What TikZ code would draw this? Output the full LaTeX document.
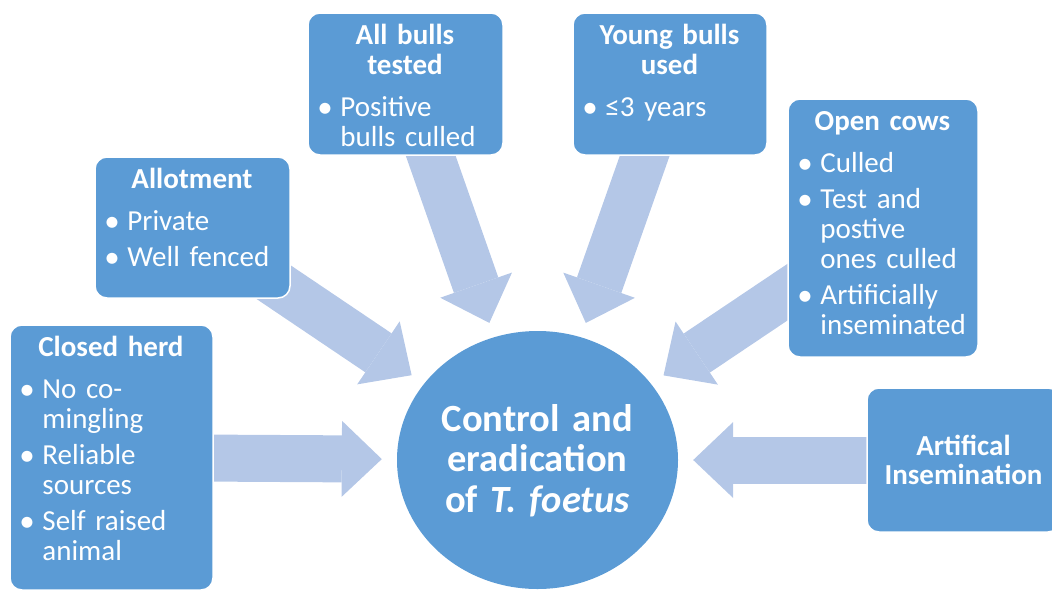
\documentclass[tikz,border=0pt]{standalone}
\usepackage{fontspec}
\setmainfont{Carlito}
\usetikzlibrary{arrows.meta,shapes.geometric,calc,backgrounds}
\definecolor{boxBlue}{HTML}{5B9BD5}
\definecolor{flowBlue}{HTML}{B4C7E7}
\newcommand{\boxhead}[1]{{\centering\bfseries #1\par}\vspace{12pt}}
\newcommand{\itm}[1]{\hangindent=21pt\hangafter=1\noindent\hbox to 21pt{\hskip-2pt\raisebox{-0.5pt}{\fontsize{31}{30}\selectfont\textbullet}\hfil}#1\par\vspace{6pt}}
\tikzset{
	topic/.style={draw=white, line width=1.5pt, fill=boxBlue, rounded corners=12pt, inner sep=0pt},
	topictext/.style={anchor=base west, inner sep=0pt, text=white, align=left,
		font=\fontsize{29}{30}\selectfont, execute at begin node={\hyphenpenalty=10000 }},
	flow/.style={draw=flowBlue, line width=47pt,
		-{Triangle[width=76pt,length=40pt,line width=0pt]}, shorten >=15pt}
}

\begin{document}
\begin{tikzpicture}[x=1pt, y=-1pt]
	\useasboundingbox (0,0) rectangle (1052,590);
	% centre
	\node[ellipse, fill=boxBlue, inner sep=0pt, minimum width=281pt, minimum height=258pt] (hub) at (537.5,460) {};
	\node[anchor=base, inner sep=0pt, text width=270pt, align=center, text=white,
		font=\bfseries\fontsize{38.5}{40.5}\selectfont] (hubtext) at (537.5,431) {Control and\\eradication\\of \textit{T. foetus}};
	
	% boxes
	\node[topic, minimum width=203pt, minimum height=265pt] (herd) at (111.5,457.5) {};
	\node[topic, minimum width=195pt, minimum height=141pt] (allot) at (192.5,227.5) {};
	\node[topic, minimum width=195pt, minimum height=142pt] (bulls) at (405.5,84) {};
	\node[topic, minimum width=194pt, minimum height=142pt] (young) at (670,84) {};
	\node[topic, minimum width=190pt, minimum height=258pt] (cows) at (883,228) {};
	\node[topic, minimum width=193pt, minimum height=144pt] (ai) at (963.5,460) {};
	
	\node[topictext, text width=179pt] (herdtext) at ($(herd.north west)+(12,32.5)$) {\boxhead{Closed herd}\itm{No co-\newline mingling}\itm{Reliable\newline sources}\itm{Self raised\newline animal}};
	\node[topictext, text width=171pt] (allottext) at ($(allot.north west)+(12,32.5)$) {\boxhead{Allotment}\itm{Private}\itm{Well fenced}};
	\node[topictext, text width=171pt] (bullstext) at ($(bulls.north west)+(12,32.5)$) {\boxhead{All bulls\\tested}\itm{Positive\newline bulls culled}};
	\node[topictext, text width=170pt] (youngtext) at ($(young.north west)+(12,32.5)$) {\boxhead{Young bulls\\used}\itm{≤3 years}};
	\node[topictext, text width=166pt] (cowstext) at ($(cows.north west)+(12,32.5)$) {\boxhead{Open cows}\itm{Culled}\itm{Test and\newline postive\newline ones culled}\itm{Artificially\newline inseminated}};
	\node[anchor=base, inner sep=0pt, text width=180pt, align=center, text=white,
		font=\bfseries\fontsize{29}{29.5}\selectfont] (aitext) at (963.5,455) {Artifical\\Insemination};
	
	% arrows behind the boxes
	\begin{scope}[on background layer]
		\draw[flow] (herd.center) -- (hub);
		\draw[flow] (allot.center) -- (hub);
		\draw[flow] (bulls.center) -- (hub);
		\draw[flow] (young.center) -- (hub);
		\draw[flow] (cows.center) -- (hub);
		\draw[flow] (ai.center) -- (hub);
	\end{scope}
\end{tikzpicture}
\end{document}
